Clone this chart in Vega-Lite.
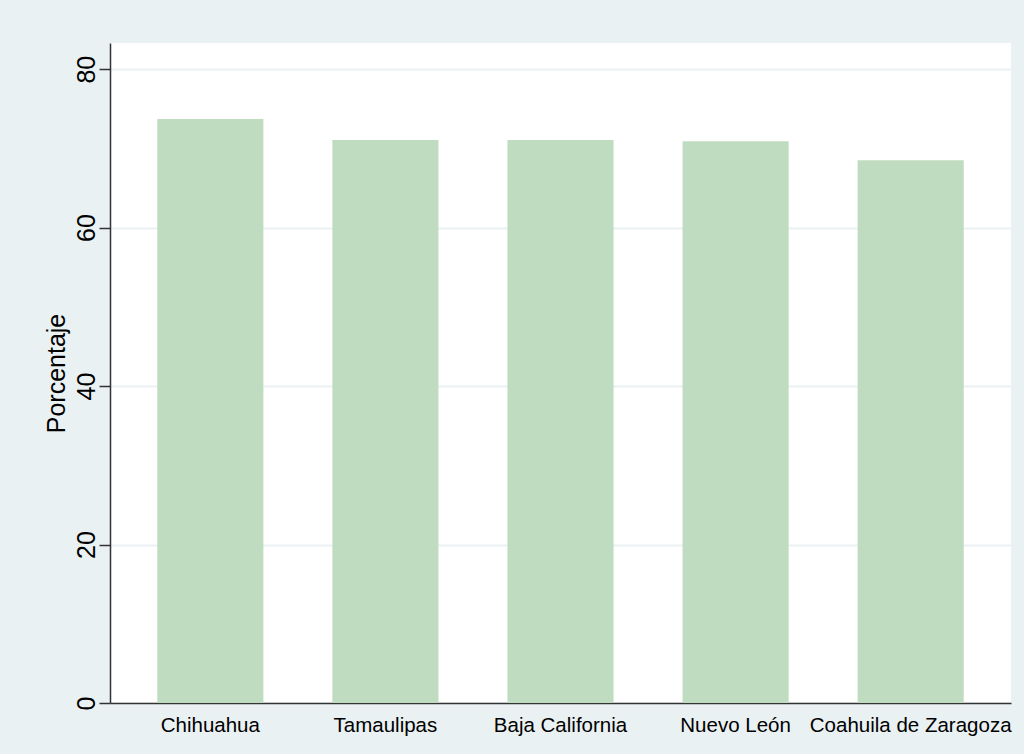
{
  "$schema": "https://vega.github.io/schema/vega-lite/v6.json",
  "width": 901,
  "height": 660,
  "autosize": "none",
  "padding": {"left": 110, "top": 43, "right": 13, "bottom": 51},
  "background": "#eaf1f3",
  "config": {
    "view": {"fill": "white", "stroke": null},
    "font": "Liberation Sans"
  },
  "data": {
    "values": [
      {"estado": "Chihuahua", "porcentaje": 73.7},
      {"estado": "Tamaulipas", "porcentaje": 71.05},
      {"estado": "Baja California", "porcentaje": 71.05},
      {"estado": "Nuevo León", "porcentaje": 70.9},
      {"estado": "Coahuila de Zaragoza", "porcentaje": 68.5}
    ]
  },
  "mark": {"type": "bar", "color": "#c0dcc0"},
  "encoding": {
    "x": {
      "field": "estado",
      "type": "nominal",
      "sort": null,
      "scale": {"paddingInner": 0.394, "paddingOuter": 0.27},
      "axis": {
        "title": null,
        "labelAngle": 0,
        "labelLimit": 0,
        "labelFontSize": 20.5,
        "labelColor": "black",
        "ticks": false,
        "labelPadding": 12,
        "domainColor": "#333333",
        "domainWidth": 1.5,
        "grid": false
      }
    },
    "y": {
      "field": "porcentaje",
      "type": "quantitative",
      "scale": {"domain": [0, 83.3], "nice": false, "zero": true},
      "axis": {
        "values": [0, 20, 40, 60, 80],
        "title": "Porcentaje",
        "titleFontSize": 25,
        "titleFontWeight": "normal",
        "titleColor": "black",
        "titlePadding": 5,
        "labelAngle": 270,
        "labelAlign": "center",
        "labelBaseline": "alphabetic",
        "labelFontSize": 25,
        "labelColor": "black",
        "labelPadding": 5,
        "tickSize": 11,
        "tickColor": "#333333",
        "tickWidth": 1.5,
        "domainColor": "#333333",
        "domainWidth": 1.5,
        "grid": true,
        "gridColor": "#eaf1f3",
        "gridWidth": 2
      }
    }
  }
}
